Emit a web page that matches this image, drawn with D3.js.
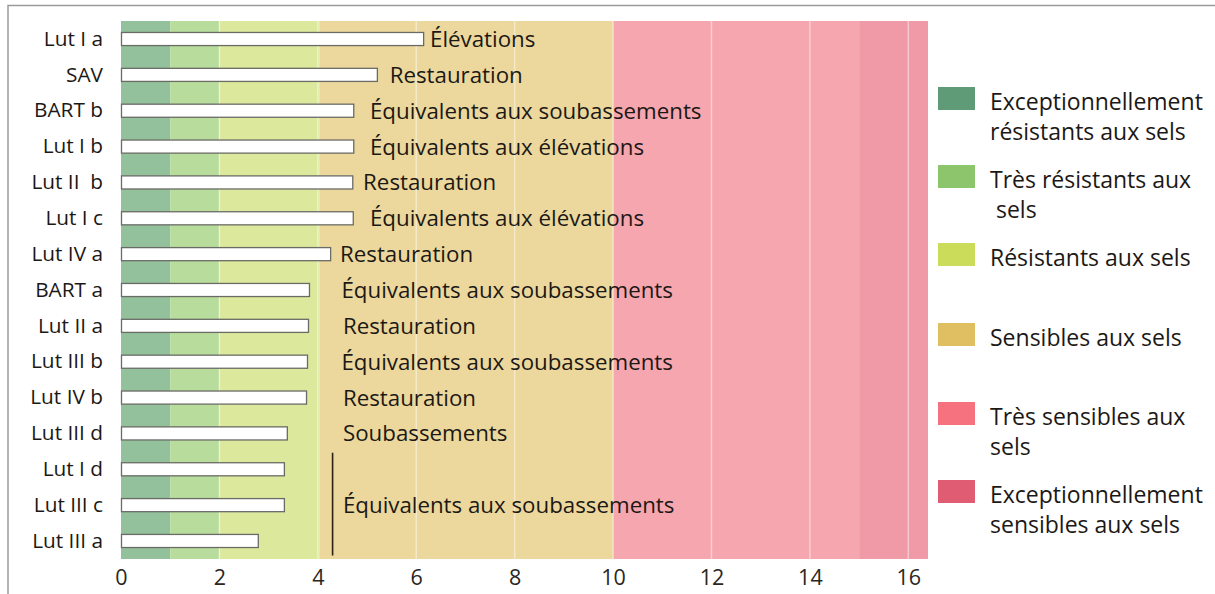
<!DOCTYPE html>
<html>
<head>
<meta charset="utf-8">
<script src="https://cdn.jsdelivr.net/npm/d3@7/dist/d3.min.js"></script>
<style>
  html, body { margin: 0; padding: 0; background: #fff; }
  svg { display: block; }
  text { font-family: "Open Sans", Lato, sans-serif; fill: #1c1815; }
</style>
</head>
<body>
<svg id="chart" width="1215" height="594"></svg>
<script>
// Échantillons, du plus sensible au moins sensible
const samples = ["Lut I a", "SAV", "BART b", "Lut I b", "Lut II  b", "Lut I c", "Lut IV a",
                 "BART a", "Lut II a", "Lut III b", "Lut IV b", "Lut III d", "Lut I d",
                 "Lut III c", "Lut III a"];
const values = [6.14, 5.2, 4.72, 4.72, 4.7, 4.71, 4.25, 3.82, 3.8, 3.78, 3.76, 3.37, 3.31, 3.31, 2.78];
const usages = ["Élévations", "Restauration", "Équivalents aux soubassements",
                "Équivalents aux élévations", "Restauration", "Équivalents aux élévations",
                "Restauration", "Équivalents aux soubassements", "Restauration",
                "Équivalents aux soubassements", "Restauration", "Soubassements", "", "", ""];
// Dernier groupe : trois échantillons partageant une même mention
const groupedSamples = ["Lut I d", "Lut III c", "Lut III a"];
const groupedUsage = "Équivalents aux soubassements";

const xTicks = [0, 2, 4, 6, 8, 10, 12, 14, 16];

// Classes de sensibilité aux sels
const classNames = ["Exceptionnellement résistants aux sels", "Très résistants aux sels",
                    "Résistants aux sels", "Sensibles aux sels", "Très sensibles aux sels",
                    "Exceptionnellement sensibles aux sels"];
const classFrom = [0, 1, 2, 4.04, 10, 15];
const classTo   = [1, 2, 4.04, 10, 15, 16.4];

// Mise en page / styles
const bandFill   = ["#93c19c", "#b7dc9c", "#dce89b", "#ecd89d", "#f6a6ae", "#f09aa7"];
const legendFill = ["#5f9b77", "#8dc56c", "#cadc5a", "#e0bf62", "#f5727e", "#df5c73"];
const legendLines = [["Exceptionnellement", "résistants aux sels"], ["Très résistants aux", " sels"],
                     ["Résistants aux sels"], ["Sensibles aux sels"], ["Très sensibles aux", "sels"],
                     ["Exceptionnellement", "sensibles aux sels"]];
const legendTop = [87, 165, 243, 323, 402, 480];
const usageX = [6.28, 5.46, 5.06, 5.06, 4.92, 5.06, 4.45, 4.48, 4.51, 4.48, 4.51, 4.51];

const svg = d3.select("#chart");
const W = 1215, H = 594;
const plot = { left: 121, right: 928, top: 21, bottom: 559 };

const x = d3.scaleLinear().domain([0, 16.4]).range([plot.left, plot.right]);
const y = d3.scaleBand().domain(samples).range([plot.top, plot.bottom]).paddingInner(0.635).paddingOuter(0.32);

// Cadre
svg.append("path")
  .attr("d", `M8,${H} L8,5.5 L${W},5.5`)
  .attr("fill", "none").attr("stroke", "#9a9a9a").attr("stroke-width", 1.5);

// Bandes de classes
svg.append("g").selectAll("rect")
  .data(classFrom)
  .join("rect")
  .attr("x", (d) => x(d))
  .attr("width", (d, i) => x(classTo[i]) - x(d))
  .attr("y", plot.top)
  .attr("height", plot.bottom - plot.top)
  .attr("fill", (d, i) => bandFill[i]);

// Quadrillage vertical
svg.append("g").selectAll("line")
  .data(xTicks.filter((t) => t > 0))
  .join("line")
  .attr("x1", (d) => x(d)).attr("x2", (d) => x(d))
  .attr("y1", plot.top).attr("y2", plot.bottom)
  .attr("stroke", "#ffffff").attr("stroke-opacity", 0.45).attr("stroke-width", 1.5);

// Barres
svg.append("g").selectAll("rect")
  .data(samples)
  .join("rect")
  .attr("x", x(0) + 0.5)
  .attr("y", (d) => y(d))
  .attr("width", (d, i) => x(values[i]) - x(0))
  .attr("height", y.bandwidth())
  .attr("fill", "#ffffff")
  .attr("stroke", "#6b6b66")
  .attr("stroke-width", 1.3);

// Axe des abscisses
const xAxis = d3.axisBottom(x).tickValues(xTicks).tickSize(0).tickPadding(0).tickFormat(d3.format("d"));
const gx = svg.append("g").attr("transform", `translate(0,${plot.bottom})`).call(xAxis);
gx.select(".domain").remove();
gx.selectAll("text").attr("dy", "1.2em").style("font-size", "21.5px").style("fill", "#2a2622").style("font-family", "Open Sans");

// Axe des ordonnées
const yAxis = d3.axisLeft(y).tickSize(0).tickPadding(18);
const gy = svg.append("g").attr("transform", `translate(${plot.left},0)`).call(yAxis);
gy.select(".domain").remove();
gy.selectAll("text").style("font-size", "20.8px").style("fill", "#1c1815").style("font-family", "Open Sans")
  .attr("xml:space", "preserve");

// Mentions d'usage
svg.append("g").selectAll("text")
  .data(usages.slice(0, usageX.length))
  .join("text")
  .attr("x", (d, i) => x(usageX[i]))
  .attr("y", (d, i) => y(samples[i]) + y.bandwidth() / 2)
  .attr("dy", "0.36em")
  .style("font-size", "22.3px")
  .text((d) => d);

// Mention commune du dernier groupe
const gTop = y(groupedSamples[0]) - 10;
const gBot = y(groupedSamples[groupedSamples.length - 1]) + y.bandwidth() + 8;
svg.append("line")
  .attr("x1", x(4.3)).attr("x2", x(4.3))
  .attr("y1", gTop).attr("y2", gBot)
  .attr("stroke", "#2a2018").attr("stroke-width", 1.6);
svg.append("text")
  .attr("x", x(4.51))
  .attr("y", y(groupedSamples[1]) + y.bandwidth() / 2)
  .attr("dy", "0.36em")
  .style("font-size", "22.3px")
  .text(groupedUsage);

// Légende
const leg = svg.append("g");
classNames.forEach((name, i) => {
  leg.append("rect")
    .attr("x", 938).attr("y", legendTop[i])
    .attr("width", 37).attr("height", 23)
    .attr("fill", legendFill[i]);
  const t = leg.append("text")
    .attr("x", 990).attr("y", legendTop[i] + 23)
    .style("font-size", "23px")
    .attr("xml:space", "preserve");
  legendLines[i].forEach((line, k) => {
    t.append("tspan").attr("x", 990).attr("dy", k === 0 ? 0 : 30).text(line);
  });
});
</script>
</body>
</html>
